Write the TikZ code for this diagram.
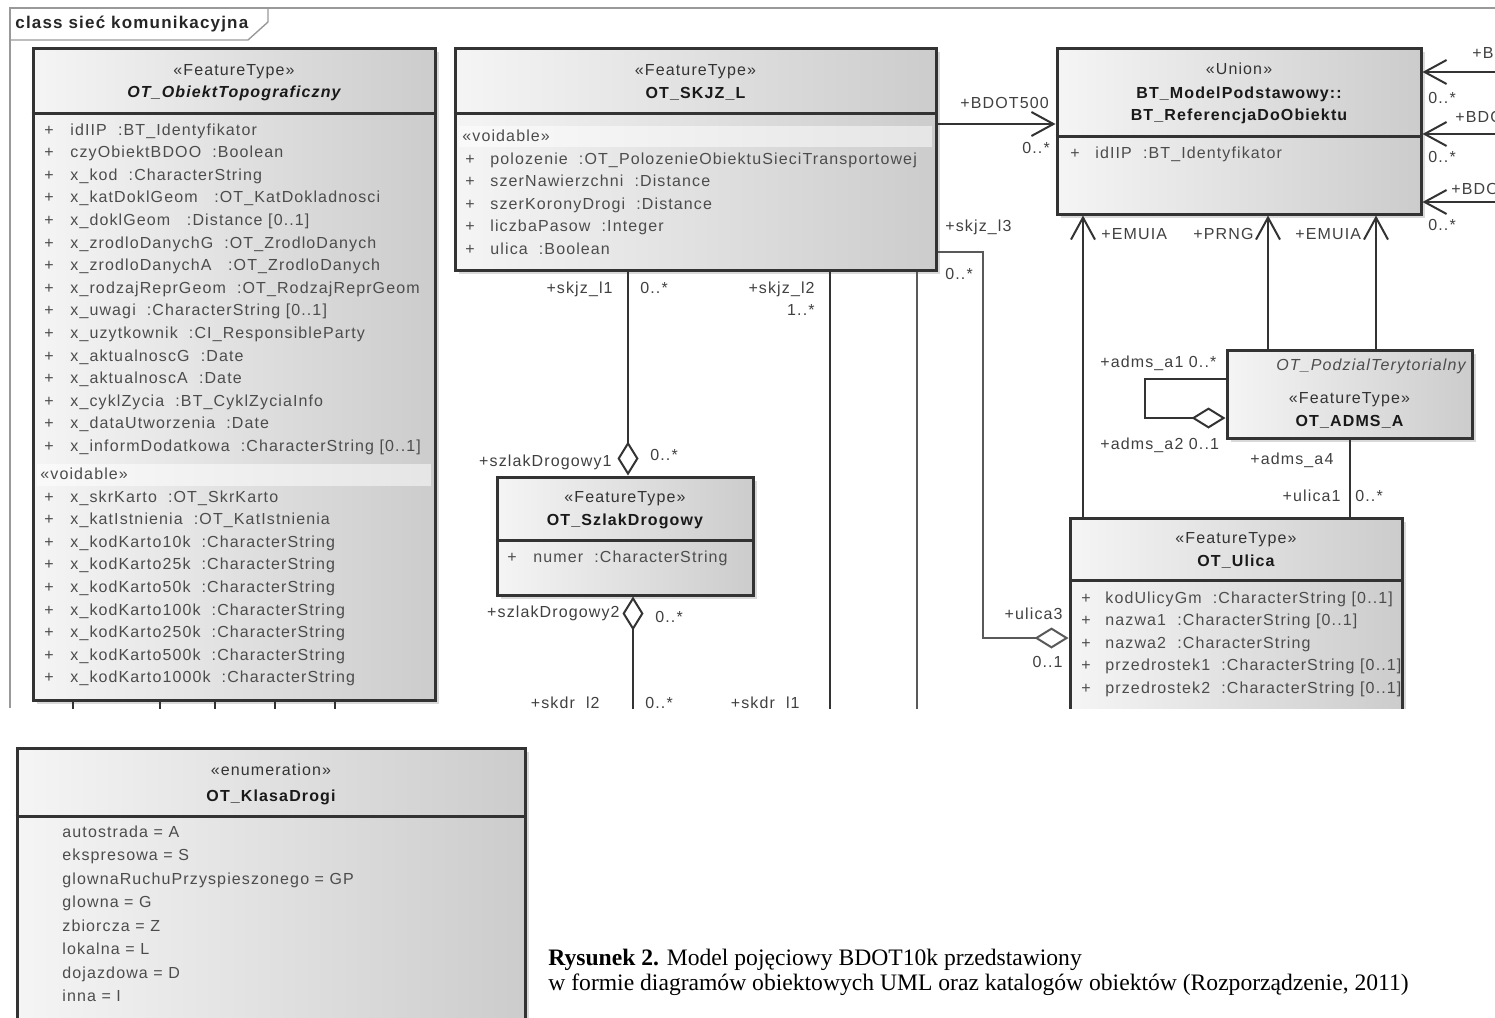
\documentclass[tikz,border=0pt]{standalone}
\usepackage{fontspec}
\setmainfont{Liberation Serif}
\newfontfamily\umlfont[LetterSpace=7]{Liberation Sans}
\newcommand\umltxt{\umlfont\fontsize{8}{10}\selectfont}
\usetikzlibrary{fit,shadows,arrows.meta}

\tikzset{
  ramka/.style={draw=black!40, line width=0.7pt},
  klasa/.style={draw=black!80, line width=1.5pt, inner sep=0pt,
    left color=black!4, middle color=black!8, right color=black!20,
    drop shadow={shadow xshift=2pt, shadow yshift=-2pt, opacity=0.3}},
  przegroda/.style={draw=black!80, line width=1.5pt},
  stereo/.style={font=\umltxt, text=black!80, anchor=base, inner sep=0pt},
  nazwa/.style={font=\umltxt\bfseries, text=black!90, anchor=base, inner sep=0pt},
  atrybut/.style={font=\umltxt, text=black!70, anchor=base west, inner sep=0pt},
  krotnosc/.style={font=\umltxt, text=black!75, inner sep=0pt},
  asocjacja/.style={draw=black!80, line width=1pt},
  cienka/.style={draw=black!65, line width=0.7pt},
  nawigacja/.style={asocjacja, -{Straight Barb[length=11pt,width=12pt]}},
  agregacja/.style={asocjacja, -{Diamond[fill=white,length=17pt,width=10.5pt]}},
}

\begin{document}
\begin{tikzpicture}[x=0.5pt,y=-0.5pt,line join=miter]
\path[use as bounding box, clip] (0,0) rectangle (1495,1018);

% ramka diagramu
\draw[ramka] (10,708) -- (10,8) -- (1495,8);
\draw[ramka] (10,40) -- (248,40) -- (268,22) -- (268,8);
\node[font=\umlfont\bfseries\fontsize{8.5}{10}\selectfont, text=black!85, anchor=base west, inner sep=0pt] (tytul) at (15,28) {class sieć komunikacyjna};

\begin{scope}
\clip (0,0) rectangle (1495,708);

% klasy
\node[klasa, fit={(33,48) (435,700)}] (obiekt) {};
\node[klasa, fit={(455,48) (936,270)}] (skjz) {};
\node[klasa, fit={(497,477) (753,595)}] (szlak) {};
\node[klasa, fit={(1057,48) (1421,214)}] (ref) {};
\node[klasa, fit={(1227,350) (1472,438)}] (adms) {};
\node[klasa, fit={(1070,518) (1402,780)}] (ulica) {};

% OT_ObiektTopograficzny
\draw[przegroda] (obiekt.west |- 0,113) -- (obiekt.east |- 0,113);
\node[stereo] (obiekts) at (obiekt.center |- 0,75) {«FeatureType»};
\node[nazwa, font=\umltxt\bfseries\itshape] (obiektn) at (obiekt.center |- 0,97) {OT\_ObiektTopograficzny};
\foreach \t [count=\i] in {idIIP\ \ :BT\_Identyfikator, czyObiektBDOO\ \ :Boolean,
    x\_kod\ \ :CharacterString, x\_katDoklGeom\ \ \ :OT\_KatDokladnosci,
    x\_doklGeom\ \ \ :Distance [0..1], x\_zrodloDanychG\ \ :OT\_ZrodloDanych,
    x\_zrodloDanychA\ \ \ :OT\_ZrodloDanych, x\_rodzajReprGeom\ \ :OT\_RodzajReprGeom,
    x\_uwagi\ \ :CharacterString [0..1], x\_uzytkownik\ \ :CI\_ResponsibleParty,
    x\_aktualnoscG\ \ :Date, x\_aktualnoscA\ \ :Date,
    x\_cyklZycia\ \ :BT\_CyklZyciaInfo, x\_dataUtworzenia\ \ :Date,
    x\_informDodatkowa\ \ :CharacterString [0..1]}
  {\node[atrybut] (obiektp\i) at (44,{135+22.6*(\i-1)}) {+};
   \node[atrybut] (obiekta\i) at (70,{135+22.6*(\i-1)}) {\t};}
\fill[white, opacity=0.5] (37,464) rectangle (431,486);
\node[atrybut] (obiektv) at (40,479) {«voidable»};
\foreach \t [count=\i] in {x\_skrKarto\ \ :OT\_SkrKarto, x\_katIstnienia\ \ :OT\_KatIstnienia,
    x\_kodKarto10k\ \ :CharacterString, x\_kodKarto25k\ \ :CharacterString,
    x\_kodKarto50k\ \ :CharacterString, x\_kodKarto100k\ \ :CharacterString,
    x\_kodKarto250k\ \ :CharacterString, x\_kodKarto500k\ \ :CharacterString,
    x\_kodKarto1000k\ \ :CharacterString}
  {\node[atrybut] (obiektq\i) at (44,{502+22.6*(\i-1)}) {+};
   \node[atrybut] (obiektb\i) at (70,{502+22.6*(\i-1)}) {\t};}

% OT_SKJZ_L
\draw[przegroda] (skjz.west |- 0,113) -- (skjz.east |- 0,113);
\node[stereo] (skjzs) at (skjz.center |- 0,75) {«FeatureType»};
\node[nazwa] (skjzn) at (skjz.center |- 0,98) {OT\_SKJZ\_L};
\fill[white, opacity=0.5] (459,126) rectangle (932,147);
\node[atrybut] (skjzv) at (462,141) {«voidable»};
\foreach \t [count=\i] in {polozenie\ \ :OT\_PolozenieObiektuSieciTransportowej,
    szerNawierzchni\ \ :Distance, szerKoronyDrogi\ \ :Distance,
    liczbaPasow\ \ :Integer, ulica\ \ :Boolean}
  {\node[atrybut] (skjzp\i) at (465,{164+22.5*(\i-1)}) {+};
   \node[atrybut] (skjza\i) at (490,{164+22.5*(\i-1)}) {\t};}

% OT_SzlakDrogowy
\draw[przegroda] (szlak.west |- 0,540) -- (szlak.east |- 0,540);
\node[stereo] (szlaks) at (szlak.center |- 0,502) {«FeatureType»};
\node[nazwa] (szlakn) at (szlak.center |- 0,525) {OT\_SzlakDrogowy};
\node[atrybut] (szlakp1) at (507,562) {+};
\node[atrybut] (szlaka1) at (533,562) {numer\ \ :CharacterString};

% BT_ReferencjaDoObiektu
\draw[przegroda] (ref.west |- 0,136) -- (ref.east |- 0,136);
\node[stereo] (refs) at (ref.center |- 0,74) {«Union»};
\node[nazwa] (refn1) at (ref.center |- 0,98) {BT\_ModelPodstawowy::};
\node[nazwa] (refn2) at (ref.center |- 0,120) {BT\_ReferencjaDoObiektu};
\node[atrybut] (refp1) at (1070,158) {+};
\node[atrybut] (refa1) at (1095,158) {idIIP\ \ :BT\_Identyfikator};

% OT_ADMS_A
\node[atrybut, anchor=base east, font=\umltxt\itshape] (admsr) at (1466,370) {OT\_PodzialTerytorialny};
\node[stereo] (admss) at (adms.center |- 0,403) {«FeatureType»};
\node[nazwa] (admsn) at (adms.center |- 0,426) {OT\_ADMS\_A};

% OT_Ulica
\draw[przegroda] (ulica.west |- 0,580) -- (ulica.east |- 0,580);
\node[stereo] (ulicas) at (ulica.center |- 0,543) {«FeatureType»};
\node[nazwa] (ulican) at (ulica.center |- 0,566) {OT\_Ulica};
\foreach \t [count=\i] in {kodUlicyGm\ \ :CharacterString [0..1], nazwa1\ \ :CharacterString [0..1],
    nazwa2\ \ :CharacterString, przedrostek1\ \ :CharacterString [0..1],
    przedrostek2\ \ :CharacterString [0..1]}
  {\node[atrybut] (ulicap\i) at (1081,{603+22.5*(\i-1)}) {+};
   \node[atrybut] (ulicaa\i) at (1105,{603+22.5*(\i-1)}) {\t};}

% powiazania
\draw[nawigacja] (skjz.east |- 0,124) -- (ref.west |- 0,124);
\draw[agregacja] (skjz.south -| 628,0) -- (szlak.north -| 628,0);
\draw[asocjacja] (skjz.south -| 830,0) -- (830,720);
\draw[cienka] (skjz.south -| 917,0) -- (917,720);
\draw[cienka, -{Diamond[fill=white,length=17pt,width=10.5pt,line width=1pt]}] (skjz.east |- 0,252) -| (983,638) -- (ulica.west |- 0,638);
\draw[agregacja] (633,720) -- (szlak.south -| 633,0);
\draw[nawigacja] (ulica.north -| 1083,0) -- (ref.south -| 1083,0);
\draw[nawigacja] (adms.north -| 1268,0) -- (ref.south -| 1268,0);
\draw[nawigacja] (adms.north -| 1376,0) -- (ref.south -| 1376,0);
\draw[agregacja] (adms.west |- 0,379) -- (1145,379) -- (1145,418) -- (adms.west |- 0,418);
\draw[asocjacja] (adms.south -| 1350,0) -- (ulica.north -| 1350,0);
\foreach \x in {73,160,215,275,335}
  \draw[asocjacja] (obiekt.south -| \x,0) -- (\x,720);
\coordinate (bdot1) at (1500,72);
\coordinate (bdot2) at (1500,134);
\coordinate (bdot3) at (1500,202);
\foreach \k in {bdot1,bdot2,bdot3}
  \draw[nawigacja] (\k) -- (ref.east |- \k);

% role i krotnosci
\node[krotnosc, anchor=base west] (l1) at (960,108) {+BDOT500};
\node[krotnosc, anchor=base west] (l2) at (1022,153) {0..*};
\node[krotnosc, anchor=base east] (l3) at (613,293) {+skjz\_l1};
\node[krotnosc, anchor=base west] (l4) at (640,293) {0..*};
\node[krotnosc, anchor=base east] (l5) at (815,293) {+skjz\_l2};
\node[krotnosc, anchor=base east] (l6) at (815,315) {1..*};
\node[krotnosc, anchor=base west] (l7) at (945,231) {+skjz\_l3};
\node[krotnosc, anchor=base west] (l8) at (945,279) {0..*};
\node[krotnosc, anchor=base east] (l9) at (612,466) {+szlakDrogowy1};
\node[krotnosc, anchor=base west] (l10) at (650,460) {0..*};
\node[krotnosc, anchor=base east] (l11) at (620,617) {+szlakDrogowy2};
\node[krotnosc, anchor=base west] (l12) at (655,622) {0..*};
\node[krotnosc, anchor=base east] (l13) at (600,708) {+skdr\_l2};
\node[krotnosc, anchor=base west] (l14) at (645,708) {0..*};
\node[krotnosc, anchor=base east] (l15) at (800,708) {+skdr\_l1};
\node[krotnosc, anchor=base west] (l16) at (1101,239) {+EMUIA};
\node[krotnosc, anchor=base west] (l17) at (1193,239) {+PRNG};
\node[krotnosc, anchor=base west] (l18) at (1295,239) {+EMUIA};
\node[krotnosc, anchor=base west] (l19) at (1428,103) {0..*};
\node[krotnosc, anchor=base west] (l20) at (1428,162) {0..*};
\node[krotnosc, anchor=base west] (l21) at (1428,230) {0..*};
\node[krotnosc, anchor=base west] (l22) at (1472,58) {+BDOT10k};
\node[krotnosc, anchor=base west] (l23) at (1455,122) {+BDOT10k};
\node[krotnosc, anchor=base west] (l24) at (1451,194) {+BDOT10k};
\node[krotnosc, anchor=base west] (l25) at (1100,367) {+adms\_a1 0..*};
\node[krotnosc, anchor=base west] (l26) at (1100,449) {+adms\_a2 0..1};
\node[krotnosc, anchor=base west] (l27) at (1250,464) {+adms\_a4};
\node[krotnosc, anchor=base east] (l28) at (1341,501) {+ulica1};
\node[krotnosc, anchor=base west] (l29) at (1355,501) {0..*};
\node[krotnosc, anchor=base east] (l30) at (1063,619) {+ulica3};
\node[krotnosc, anchor=base east] (l31) at (1063,667) {0..1};
\end{scope}

% OT_KlasaDrogi
\node[klasa, fit={(17,748) (525,1060)}] (klasa) {};
\draw[przegroda] (klasa.west |- 0,816) -- (klasa.east |- 0,816);
\node[stereo] (klasas) at (klasa.center |- 0,775) {«enumeration»};
\node[nazwa] (klasan) at (klasa.center |- 0,801) {OT\_KlasaDrogi};
\foreach \t [count=\i] in {autostrada = A, ekspresowa = S, glownaRuchuPrzyspieszonego = GP,
    glowna = G, zbiorcza = Z, lokalna = L, dojazdowa = D, inna = I}
  \node[atrybut] (klasaa\i) at (62,{837+23.5*(\i-1)}) {\t};

% podpis
\node[anchor=base west, inner sep=0pt, font=\fontsize{11.8}{13}\selectfont] (podpis1) at (548,965) {\textbf{Rysunek 2.} Model pojęciowy BDOT10k przedstawiony};
\node[anchor=base west, inner sep=0pt, font=\fontsize{11.8}{13}\selectfont] (podpis2) at (548,990) {w formie diagramów obiektowych UML oraz katalogów obiektów (Rozporządzenie, 2011)};
\end{tikzpicture}
\end{document}
